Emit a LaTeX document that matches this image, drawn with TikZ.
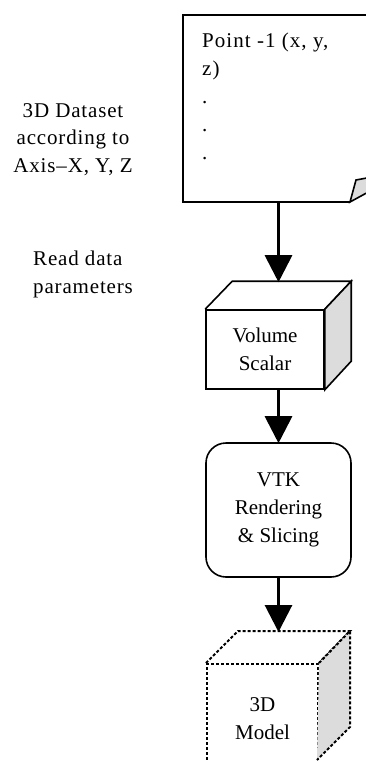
\documentclass[tikz,border=0pt]{standalone}
\usepackage{fontspec}
\setmainfont{Liberation Serif}
\usetikzlibrary{arrows.meta}
\definecolor{facegrey}{RGB}{220,220,220}
\begin{document}
\begin{tikzpicture}[x=1pt,y=-1pt,
  txt/.style={font=\fontsize{21}{28}\selectfont, inner sep=0pt},
  spaced/.style={font=\fontsize{21}{27.5}\selectfont\addfontfeatures{LetterSpace=4}},
  edge/.style={line width=1.6pt, line join=miter},
  dotedge/.style={line width=2pt, dash pattern=on 3pt off 2pt},
  arr/.style={line width=3pt, -{Triangle[width=27pt,length=27pt]}, shorten >=-1pt}
]
\useasboundingbox (0,0) rectangle (365,761);

% document shape
\coordinate (dtl) at (183,15);
\coordinate (dbl) at (183,202);
\coordinate (dbr) at (350,202);
\draw[edge] (370,15) -- (dtl) -- (dbl) -- (dbr);
\draw[edge, fill=facegrey] (dbr) -- (356,180) -- (372,177) -- (372,190) -- cycle;
\node[txt, anchor=north west, align=left, font=\fontsize{21}{28}\selectfont\addfontfeatures{LetterSpace=5}] (doc) at (202,32.5) {Point -1 (x, y,\\z)\\.\\.\\.};

% left texts
\node[txt, spaced, align=center, anchor=north] (dataset) at (73,103) {3D Dataset\\according to\\Axis--X, Y, Z};
\node[txt, spaced, align=left, anchor=north west] (read) at (33,251) {Read data\\parameters};

% volume scalar cube
\node[txt, draw, edge, minimum width=118pt, minimum height=79pt, align=center] (vol) at (265,349.5) {Volume\\Scalar};
\draw[edge] (vol.north west) -- ++(27,-28) coordinate (voltl) -- ++(119,0) coordinate (voltr) -- (vol.north east);
\draw[edge, fill=facegrey] (vol.north east) -- (voltr) -- ++(0,80) -- (vol.south east) -- cycle;

% VTK rounded box
\node[txt, draw, edge, rounded corners=20pt, minimum width=145pt, minimum height=134pt, align=center] (vtk) at (278.5,510) {VTK\\Rendering\\\& Slicing};

% 3D model dotted cube
\node[txt, draw, dotedge, minimum width=111pt, minimum height=110pt, align=center, anchor=north] (model) at (262.5,663) {3D\\Model};
\draw[dotedge] (model.north west) -- ++(32,-32) coordinate (modtl) -- ++(112,0) coordinate (modtr) -- (model.north east);
\draw[dotedge, fill=facegrey] (model.north east) -- (modtr) -- ++(0,96) -- ++(-33,33);

% arrows
\coordinate (a1s) at (vtk.center |- dbl);
\coordinate (a1e) at (vtk.center |- voltl);
\coordinate (a2s) at (vtk.center |- vol.south);
\coordinate (a3e) at (vtk.center |- modtl);
\draw[arr] (a1s) -- (a1e);
\draw[arr] (a2s) -- (vtk.north);
\draw[arr] (vtk.south) -- (a3e);
\end{tikzpicture}
\end{document}
